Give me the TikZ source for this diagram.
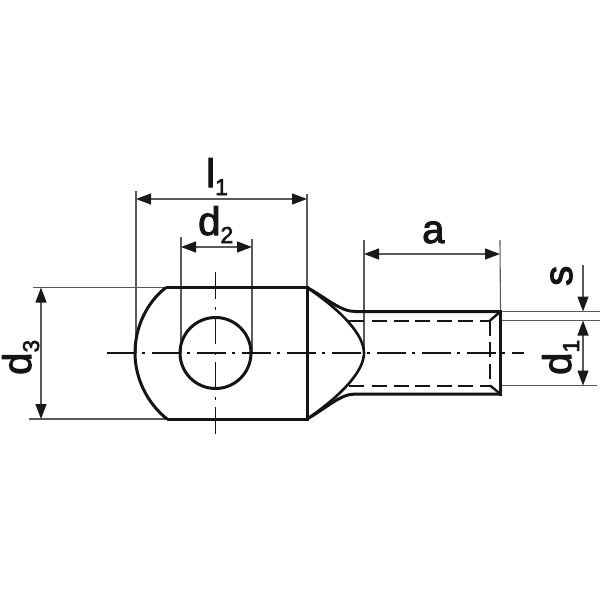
\documentclass[tikz,border=0pt]{standalone}
\usepackage{fontspec}
\setmainfont{Liberation Sans}
\newfontfamily\labfont[FakeBold=2.5]{Liberation Sans}
\usetikzlibrary{arrows.meta}
\tikzset{
 x=1pt,y=-1pt,
 outline/.style={line width=3pt,black!92,line join=miter},
 dimln/.style={line width=1.3pt,black!65},
 extln/.style={line width=1.1pt,black!65},
 tipp/.tip={Triangle[length=15pt,width=11pt,color=black!90]},
 dimarr/.style={dimln,{tipp}-{tipp}},
 onearr/.style={dimln,-{tipp}},
 centre/.style={line width=1.8pt,black!92,dash pattern=on 28.5pt off 6.5pt on 3pt off 7pt},
 hidden/.style={line width=2pt,black!92,dash pattern=on 15pt off 6.5pt},
 big/.style={font=\labfont\fontsize{40}{40}\selectfont,inner sep=0pt,black!92,anchor=base west},
}
\newcommand{\lab}[2]{#1\raisebox{-8pt}{\fontsize{23}{23}\selectfont #2}}
\begin{document}
\begin{tikzpicture}
\useasboundingbox (0,0) rectangle (600,600);
\fill[white] (0,0) rectangle (600,600);
% key coordinates
\coordinate (tl) at (166,287.5); \coordinate (tr) at (307,287.5);
\coordinate (bl) at (167,419); \coordinate (br) at (307,419);
\coordinate (arcw) at (135,353); \coordinate (hc) at (215.5,353);
\coordinate (st) at (355,311.5); \coordinate (sb) at (355,394);
\coordinate (et) at (500.5,311.5); \coordinate (eb) at (500.5,394);
\coordinate (it) at (490,320.5); \coordinate (ib) at (490,385.5);
% extension lines
\coordinate (l1a) at (136,191); \coordinate (l1ae) at (136,353);
\coordinate (l1b) at (307,194); \coordinate (d2a) at (181,237); \coordinate (d2ae) at (181,353);
\coordinate (d2b) at (252,239); \coordinate (d2be) at (252,353);
\coordinate (aa) at (364,240); \coordinate (aae) at (364,353);
\coordinate (ab) at (500,240);
\draw[extln] (l1a)--(l1ae);
\draw[extln] (l1b)--(tr);
\draw[extln] (d2a)--(d2ae);
\draw[extln] (d2b)--(d2be);
\draw[extln] (aa)--(aae);
\draw[extln] (ab)--(et);
\coordinate (h1) at (33,287.5); \coordinate (h2) at (29,419);
\draw[extln] (h1)--(tl);
\draw[extln] (h2)--(bl);
\coordinate (r1) at (600,311.5); \coordinate (r2) at (600,320.5); \coordinate (r3) at (597,385.5);
\coordinate (ie1) at (500,320.5); \coordinate (ie2) at (500,385.5);
\draw[extln] (et)--(r1);
\draw[extln] (ie1)--(r2);
\draw[extln] (ie2)--(r3);
% centre lines
\coordinate (c1) at (107,353); \coordinate (c2) at (524,353);
\coordinate (v1) at (215.5,272); \coordinate (v2) at (215.5,436);
\draw[centre] (c1)--(c2);
\draw[centre,dash pattern=on 27pt off 8pt on 3pt off 7pt] (v1)--(v2);
% outline
\draw[outline] (tl) .. controls (146,303) and (135,328) .. (arcw) .. controls (135,378) and (147,403) .. (bl);
\draw[outline] (tl)--(tr)--(br)--(bl);
\draw[outline] (hc) circle (35.5);
\draw[outline] (tr) .. controls (325,297) and (340,311.5) .. (st) -- (et);
\draw[outline] (br) .. controls (325,409) and (340,394) .. (sb) -- (eb);
\draw[outline,line cap=rect] (et)--(eb);
% cone
\draw[line width=2.6pt,black!92] (tr) .. controls (342,311) and (364,335) .. (364,353) .. controls (364,371) and (342,395) .. (br);
% hidden bore
\coordinate (bs1) at (349,320.5); \coordinate (bs2) at (349,385.5);
\coordinate (bs3) at (364,320.5); \coordinate (bs4) at (364,385.5);
\coordinate (bd1) at (372,320.5); \coordinate (bd2) at (372,385.5);
\draw[hidden,solid] (bs1)--(bs3);
\draw[hidden,solid] (bs2)--(bs4);
\draw[hidden] (bd1)--(it);
\draw[hidden] (bd2)--(ib);
\draw[line width=2.4pt,black!92] (et)--(it);
\draw[line width=2.4pt,black!92] (eb)--(ib);
\draw[hidden,dash pattern=on 15pt off 6.5pt] (it)--(ib);
% dimensions
\coordinate (da1) at (136,199); \coordinate (da2) at (307,199);
\draw[dimarr] (da1)--(da2);
\coordinate (db1) at (181,247); \coordinate (db2) at (252,247);
\draw[dimarr] (db1)--(db2);
\coordinate (dc1) at (364,254); \coordinate (dc2) at (500,254);
\draw[dimarr] (dc1)--(dc2);
\coordinate (dd1) at (41,287.5); \coordinate (dd2) at (41,419);
\draw[dimarr] (dd1)--(dd2);
\coordinate (s0) at (583,265); \coordinate (s1) at (583,311.5);
\draw[onearr] (s0)--(s1);
\coordinate (d1a) at (583,320.5); \coordinate (d1b) at (583,385.5);
\draw[dimarr] (d1a)--(d1b);
% labels
\node[big] (tl1) at (206,187) {\lab{l}{1}};
\node[big] (td2) at (198,235) {\lab{d}{2}};
\node[big] (ta) at (422,243) {a};
\node[big,rotate=90] (ts) at (572,286) {s};
\node[big,rotate=90] (td1) at (571,375) {\lab{d}{1}};
\node[big,rotate=90] (td3) at (31,375) {\lab{d}{3}};
\end{tikzpicture}
\end{document}
